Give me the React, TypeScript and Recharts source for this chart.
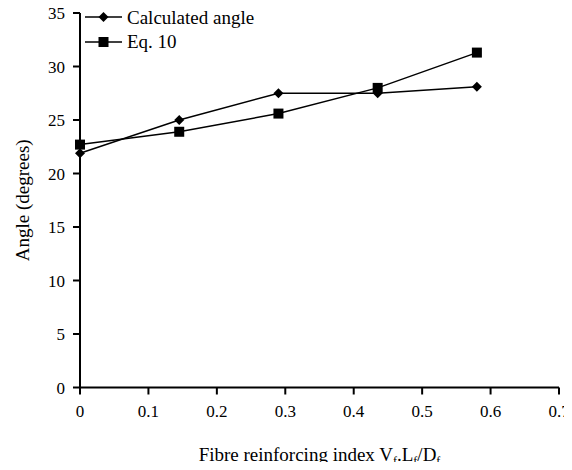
import React from "react"
import { LineChart, Line, XAxis, YAxis, Legend } from "recharts"

// fibre reinforcing index on the x axis
const fibreIndex = [0, 0.145, 0.29, 0.435, 0.58]
// angle in degrees
const calculatedAngle = [21.9, 25.0, 27.5, 27.5, 28.1]
const eq10Angle = [22.7, 23.9, 25.6, 28.0, 31.3]

const xTicks = [0, 0.1, 0.2, 0.3, 0.4, 0.5, 0.6, 0.7]
const yTicks = [0, 5, 10, 15, 20, 25, 30, 35]

const seriesNames = ["Calculated angle", "Eq. 10"]

const data = fibreIndex.map((x, i) => ({
  x,
  calc: calculatedAngle[i],
  eq10: eq10Angle[i],
}))

const FONT = "Liberation Serif, Times New Roman, serif"

const Diamond = ({ cx, cy }: any) => {
  if (cx == null || cy == null) return null
  return <polygon points={`${cx},${cy - 5} ${cx + 5},${cy} ${cx},${cy + 5} ${cx - 5},${cy}`} fill="#000" />
}

const Square = ({ cx, cy }: any) => {
  if (cx == null || cy == null) return null
  return <rect x={cx - 5} y={cy - 5} width={10} height={10} fill="#000" />
}

const XTick = ({ x, y, payload }: any) => (
  <text x={x} y={y} dy="0.71em" textAnchor="middle" fill="#000" style={{ fontFamily: FONT, fontSize: 17 }}>
    {payload.value === 0 ? "0" : payload.value.toFixed(1)}
  </text>
)

const YTick = ({ x, y, payload }: any) => (
  <text x={x} y={y} dy="0.355em" textAnchor="end" fill="#000" style={{ fontFamily: FONT, fontSize: 17 }}>
    {payload.value}
  </text>
)

const XTitle = ({ viewBox }: any) => {
  const cx = viewBox.x + viewBox.width / 2
  const y = viewBox.y + viewBox.height - 9
  const sub = { fontSize: 12 }
  return (
    <text x={cx} y={y} textAnchor="middle" fill="#000" style={{ fontFamily: FONT, fontSize: 19 }}>
      Fibre reinforcing index V
      <tspan dy={4} {...sub}>f</tspan>
      <tspan dy={-4}>.L</tspan>
      <tspan dy={4} {...sub}>f</tspan>
      <tspan dy={-4}>/D</tspan>
      <tspan dy={4} {...sub}>f</tspan>
    </text>
  )
}

const YTitle = ({ viewBox }: any) => {
  const x = viewBox.x + 29
  const y = viewBox.y + viewBox.height / 2
  return (
    <text x={x} y={y} transform={`rotate(-90, ${x}, ${y})`} textAnchor="middle" fill="#000" style={{ fontFamily: FONT, fontSize: 19 }}>
      Angle (degrees)
    </text>
  )
}

const LegendRows = () => (
  <div style={{ fontFamily: FONT, fontSize: 19, color: "#000" }}>
    {seriesNames.map((name, i) => (
      <div key={name} style={{ display: "flex", alignItems: "center", height: 24.4 }}>
        <svg width={37} height={12} style={{ marginRight: 5 }}>
          <line x1={0} y1={6} x2={37} y2={6} stroke="#000" strokeWidth={1.5} />
          {i === 0 ? <Diamond cx={18.5} cy={6} /> : <Square cx={18.5} cy={6} />}
        </svg>
        <span style={{ lineHeight: "19px" }}>{name}</span>
      </div>
    ))}
  </div>
)

export default function App() {
  return (
    <div style={{ margin: -8, width: 572, height: 470, background: "#fff", fontFamily: FONT }}>
      <LineChart
        width={572}
        height={470}
        data={data}
        margin={{ top: 13, right: 13, bottom: 0, left: 0 }}
      >
        <XAxis
          type="number"
          dataKey="x"
          domain={[0, 0.7]}
          ticks={xTicks}
          height={82.5}
          tickSize={7}
          tickMargin={10}
          tick={<XTick />}
          axisLine={{ stroke: "#000", strokeWidth: 2 }}
          tickLine={{ stroke: "#000", strokeWidth: 2 }}
          label={<XTitle />}
        />
        <YAxis
          type="number"
          domain={[0, 35]}
          ticks={yTicks}
          width={80}
          tickSize={7}
          tickMargin={8}
          tick={<YTick />}
          axisLine={{ stroke: "#000", strokeWidth: 2 }}
          tickLine={{ stroke: "#000", strokeWidth: 2 }}
          label={<YTitle />}
        />
        <Legend
          layout="vertical"
          align="center"
          verticalAlign="middle"
          content={() => <LegendRows />}
          wrapperStyle={{ left: 85, top: 5, width: "auto", height: "auto" }}
        />
        <Line
          type="linear"
          dataKey="calc"
          name={seriesNames[0]}
          stroke="#000"
          strokeWidth={1.5}
          dot={<Diamond />}
          activeDot={false}
          isAnimationActive={false}
        />
        <Line
          type="linear"
          dataKey="eq10"
          name={seriesNames[1]}
          stroke="#000"
          strokeWidth={1.5}
          dot={<Square />}
          activeDot={false}
          isAnimationActive={false}
        />
      </LineChart>
    </div>
  )
}
